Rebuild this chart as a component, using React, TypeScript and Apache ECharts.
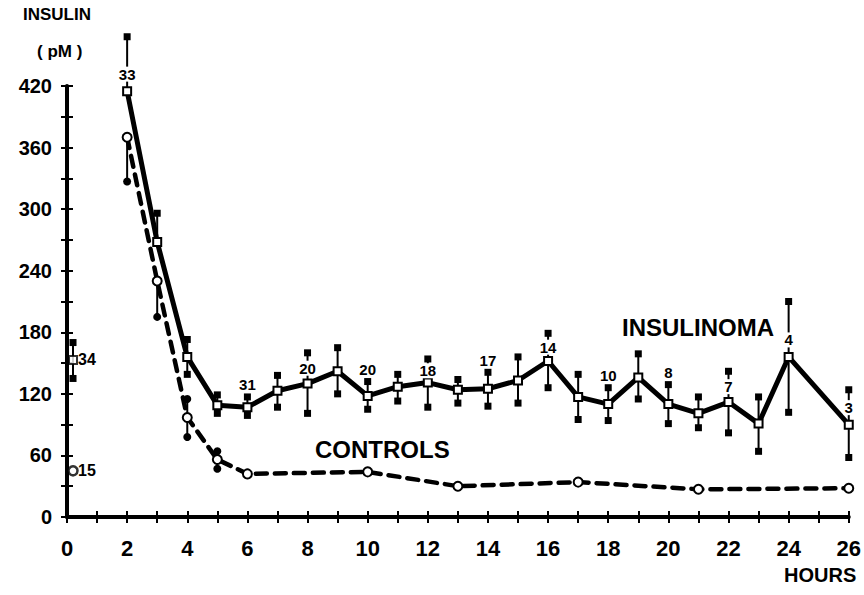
import React, { useEffect, useRef } from 'react';
import * as echarts from 'echarts';

// Insulinoma group (mean ± SE), hours of fast
const insHours = [2, 3, 4, 5, 6, 7, 8, 9, 10, 11, 12, 13, 14, 15, 16, 17, 18, 19, 20, 21, 22, 23, 24, 26];
const insMean = [415, 268, 156, 109, 107, 123, 130, 142, 118, 127, 131, 124, 125, 133, 152, 117, 110, 136, 110, 101, 112, 91, 156, 90];
const insHigh = [468, 296, 173, 119, 117, 138, 160, 165, 132, 139, 154, 134, 141, 156, 179, 139, 126, 159, 129, 117, 142, 117, 210, 124];
const insLow = [null, null, 139, 101, 99, 107, 101, 120, 105, 113, 107, 111, 108, 111, 126, 95, 94, 115, 91, 87, 82, 64, 102, 58];

// Number of patients at each time
const nHours = [2, 6, 8, 10, 12, 14, 16, 18, 20, 22, 24, 26];
const nLabels = ['33', '31', '20', '20', '18', '17', '14', '10', '8', '7', '4', '3'];

// Controls group
const ctrlHours = [2, 3, 4, 5, 6, 10, 13, 17, 21, 26];
const ctrlMean = [370, 230, 97, 56, 42, 44, 30, 34, 27, 28];
const ctrlHigh = [null, null, 115, 64, null, null, null, null, null, null];
const ctrlLow = [327, 195, 78, 47, null, null, null, null, null, null];

// Baseline (time 0) values
const baseHour = [0.2];
const baseInsMean = [153];
const baseInsHigh = [170];
const baseInsLow = [135];
const baseInsN = ['34'];
const baseCtrlMean = [45];
const baseCtrlN = ['15'];

const xTicks = { min: 0, max: 26, interval: 1 };
const yTicks = { min: 0, max: 420, interval: 30 };

const FONT = '"Liberation Sans", Arial, Helvetica, sans-serif';

export default function App() {
  const ref = useRef<HTMLDivElement>(null);

  useEffect(() => {
    const chart = echarts.init(ref.current!, null, { renderer: 'svg' });

    const errorSeries = (
      xs: number[],
      means: number[],
      lows: (number | null)[],
      highs: (number | null)[],
      shape: 'rect' | 'circle'
    ) => ({
      type: 'custom',
      z: 2,
      clip: false,
      silent: true,
      data: xs.map((x, i) => [x, means[i]]),
      renderItem: (params: any, api: any) => {
        const i = params.dataIndex;
        const pm = api.coord([xs[i], means[i]]);
        const children: any[] = [];
        [highs[i], lows[i]].forEach((v) => {
          if (v == null) return;
          const p = api.coord([xs[i], v]);
          children.push({
            type: 'line',
            shape: { x1: p[0], y1: p[1], x2: pm[0], y2: pm[1] },
            style: { stroke: '#000', lineWidth: 2 },
          });
          if (shape === 'rect') {
            children.push({
              type: 'rect',
              shape: { x: p[0] - 3.5, y: p[1] - 3.5, width: 7, height: 7 },
              style: { fill: '#000' },
            });
          } else {
            children.push({
              type: 'circle',
              shape: { cx: p[0], cy: p[1], r: 4 },
              style: { fill: '#000' },
            });
          }
        });
        return { type: 'group', children };
      },
    });

    const nSeries = {
      type: 'custom',
      z: 6,
      clip: false,
      silent: true,
      data: nHours.map((h) => [h, insMean[insHours.indexOf(h)]]),
      renderItem: (params: any, api: any) => {
        const h = nHours[params.dataIndex];
        const k = insHours.indexOf(h);
        const pm = api.coord([h, insMean[k]]);
        const ph = api.coord([h, insHigh[k]]);
        const y =
          pm[1] - ph[1] < 20 ? ph[1] - 12 : Math.max((pm[1] + ph[1]) / 2, pm[1] - 17);
        return {
          type: 'text',
          x: pm[0],
          y,
          style: {
            text: nLabels[params.dataIndex],
            fill: '#000',
            font: `bold 15px ${FONT}`,
            align: 'center',
            verticalAlign: 'middle',
            backgroundColor: '#fff',
            padding: [0, 1],
          },
        };
      },
    };

    const baseLabels = {
      type: 'custom',
      z: 6,
      clip: false,
      silent: true,
      data: [
        [baseHour[0], baseInsMean[0]],
        [baseHour[0], baseCtrlMean[0]],
      ],
      renderItem: (params: any, api: any) => {
        const i = params.dataIndex;
        const v = i === 0 ? baseInsMean[0] : baseCtrlMean[0];
        const p = api.coord([baseHour[0], v]);
        return {
          type: 'text',
          x: p[0] + 5,
          y: p[1],
          style: {
            text: i === 0 ? baseInsN[0] : baseCtrlN[0],
            fill: '#000',
            font: `bold 16px ${FONT}`,
            align: 'left',
            verticalAlign: 'middle',
          },
        };
      },
    };

    const axisLabelStyle = {
      color: '#000',
      fontWeight: 'bold',
      fontFamily: FONT,
    };

    chart.setOption({
      animation: false,
      backgroundColor: '#fff',
      grid: { left: 67, right: 14, top: 86, bottom: 78, containLabel: false },
      xAxis: [
        {
          type: 'value',
          ...xTicks,
          splitLine: { show: false },
          axisLine: { show: true, lineStyle: { color: '#000', width: 4 } },
          axisTick: { show: true, length: 6, lineStyle: { color: '#000', width: 2 } },
          axisLabel: {
            ...axisLabelStyle,
            fontSize: 22,
            margin: 20,
            formatter: (v: number) => (v % 2 === 0 ? String(v) : ''),
          },
        },
        {
          type: 'value',
          position: 'bottom',
          ...xTicks,
          splitLine: { show: false },
          axisLine: { show: false },
          axisTick: { show: true, inside: true, length: 6, lineStyle: { color: '#000', width: 2 } },
          axisLabel: { show: false },
        },
      ],
      yAxis: [
        {
          type: 'value',
          ...yTicks,
          splitLine: { show: false },
          axisLine: { show: true, lineStyle: { color: '#000', width: 4 } },
          axisTick: { show: true, length: 6, lineStyle: { color: '#000', width: 2 } },
          axisLabel: {
            ...axisLabelStyle,
            fontSize: 20,
            margin: 15,
            formatter: (v: number) => (v % 60 === 0 ? String(v) : ''),
          },
        },
        {
          type: 'value',
          position: 'left',
          ...yTicks,
          splitLine: { show: false },
          axisLine: { show: false },
          axisTick: { show: true, inside: true, length: 6, lineStyle: { color: '#000', width: 2 } },
          axisLabel: { show: false },
        },
      ],
      series: [
        errorSeries(insHours, insMean, insLow, insHigh, 'rect'),
        errorSeries(ctrlHours, ctrlMean, ctrlLow, ctrlHigh, 'circle'),
        errorSeries(baseHour, baseInsMean, baseInsLow, baseInsHigh, 'rect'),
        {
          name: 'CONTROLS',
          type: 'line',
          z: 3,
          clip: false,
          silent: true,
          data: ctrlHours.map((h, i) => [h, ctrlMean[i]]),
          symbol: 'circle',
          symbolSize: 9,
          showAllSymbol: true,
          itemStyle: { color: '#fff', borderColor: '#000', borderWidth: 2 },
          lineStyle: { color: '#000', width: 4.5, type: [11, 8], cap: 'round' },
        },
        {
          name: 'INSULINOMA',
          type: 'line',
          z: 4,
          clip: false,
          silent: true,
          data: insHours.map((h, i) => [h, insMean[i]]),
          symbol: 'rect',
          symbolSize: 8,
          showAllSymbol: true,
          itemStyle: { color: '#fff', borderColor: '#000', borderWidth: 2 },
          lineStyle: { color: '#000', width: 5 },
        },
        {
          type: 'scatter',
          z: 4,
          silent: true,
          data: [[baseHour[0], baseInsMean[0]]],
          symbol: 'rect',
          symbolSize: 8,
          itemStyle: { color: '#fff', borderColor: '#000', borderWidth: 2 },
        },
        {
          type: 'scatter',
          z: 4,
          silent: true,
          data: [[baseHour[0], baseCtrlMean[0]]],
          symbol: 'circle',
          symbolSize: 9,
          itemStyle: { color: '#fff', borderColor: '#000', borderWidth: 2.5 },
        },
        nSeries,
        baseLabels,
      ],
      graphic: [
        {
          type: 'text',
          left: 23,
          top: 6,
          style: { text: 'INSULIN', fill: '#000', font: `bold 17px ${FONT}` },
        },
        {
          type: 'text',
          left: 37,
          top: 43,
          style: { text: '( pM )', fill: '#000', font: `bold 17px ${FONT}` },
        },
        {
          type: 'text',
          left: 622,
          top: 315,
          style: { text: 'INSULINOMA', fill: '#000', font: `bold 24px ${FONT}` },
        },
        {
          type: 'text',
          left: 315,
          top: 437,
          style: { text: 'CONTROLS', fill: '#000', font: `bold 24px ${FONT}` },
        },
        {
          type: 'text',
          left: 784,
          top: 565,
          style: { text: 'HOURS', fill: '#000', font: `bold 20px ${FONT}` },
        },
      ],
    });

    return () => chart.dispose();
  }, []);

  return (
    <div
      ref={ref}
      style={{ position: 'fixed', left: 0, top: 0, width: 864, height: 595, background: '#fff' }}
    />
  );
}
